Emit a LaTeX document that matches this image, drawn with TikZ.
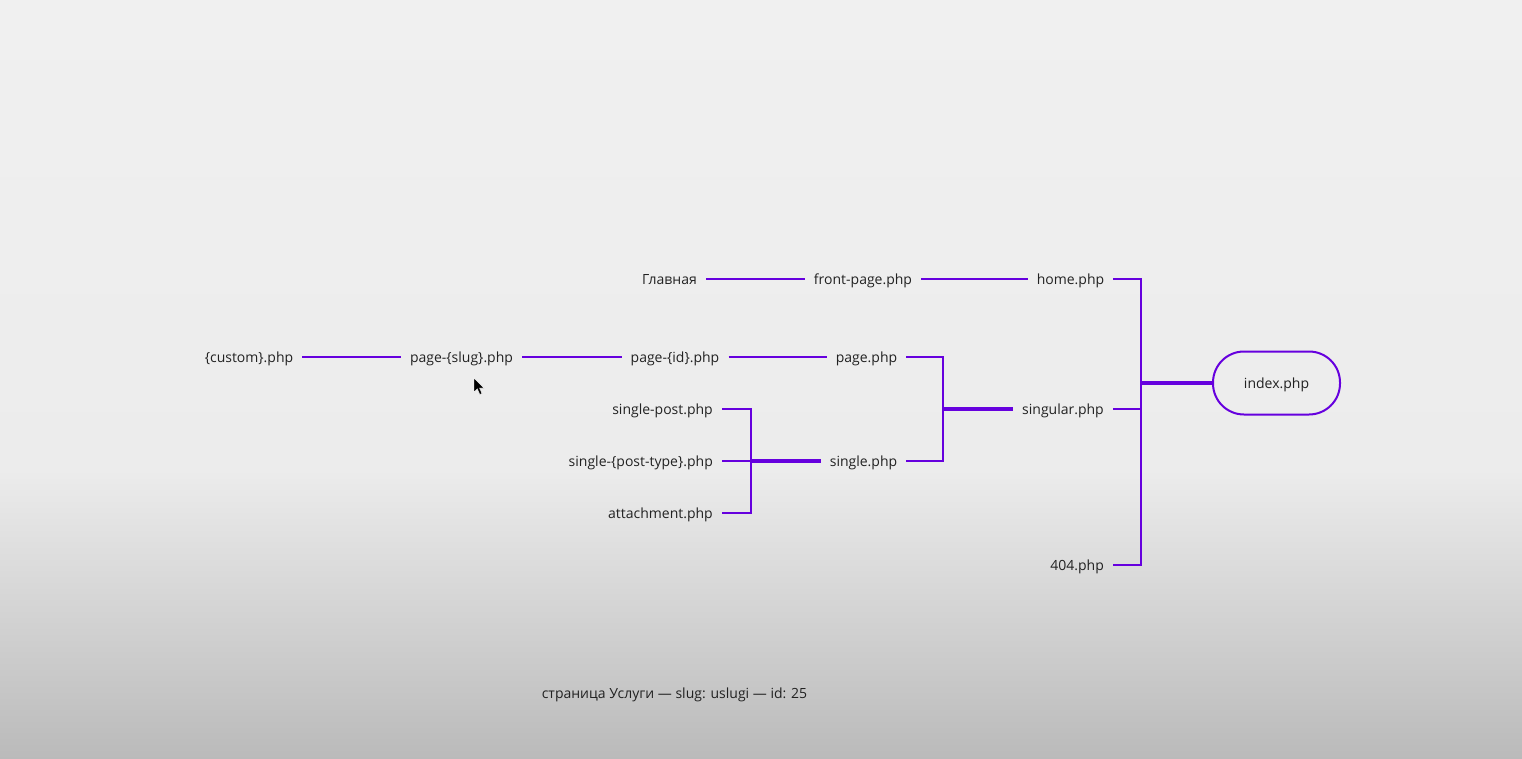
\documentclass[tikz,border=0pt]{standalone}
\usepackage{fontspec}
\setmainfont{Open Sans}
\definecolor{wire}{RGB}{102,0,222}
\definecolor{ink}{RGB}{34,34,34}
\definecolor{bgtop}{RGB}{240,240,240}
\definecolor{bgmid}{RGB}{236,236,236}
\definecolor{bgbot}{RGB}{186,186,186}
\begin{document}
\begin{tikzpicture}[x=1pt,y=-1pt,
  lbl/.style={text=ink,inner xsep=9pt,inner ysep=0pt,text height=12pt,text depth=2pt,font=\fontsize{14}{16}\selectfont},
  wirel/.style={draw=wire,line width=2pt,line join=miter},
  wireth/.style={draw=wire,line width=3.2pt},
  pill/.style={draw=wire,line width=2pt,rounded corners=31pt,minimum width=127pt,minimum height=63pt,text=ink,text height=12pt,text depth=2pt,font=\fontsize{14}{16}\selectfont}]
\useasboundingbox (0,0) rectangle (1522,759);
\shade[top color=bgtop,bottom color=bgmid] (0,0) rectangle (1522,470);
\shade[top color=bgmid,bottom color=bgbot] (0,469.5) rectangle (1522,759);

% row 1
\node[lbl] (glav) at (669.5,279) {Главная};
\node[lbl] (front) at (863,279) {front-page.php};
\node[lbl] (home) at (1070.5,279) {home.php};
% row 2
\node[lbl] (custom) at (249,357) {\{custom\}.php};
\node[lbl] (slug) at (461.5,357) {page-\{slug\}.php};
\node[lbl] (pid) at (675,357) {page-\{id\}.php};
\node[lbl] (page) at (866.5,357) {page.php};
% single group
\node[lbl,anchor=east] (spost) at (722,409) {single-post.php};
\node[lbl,anchor=east] (sptype) at (722,461) {single-\{post-type\}.php};
\node[lbl,anchor=east] (attach) at (722,513) {attachment.php};
\node[lbl] (single) at (863.5,461) {single.php};
% right column
\node[lbl,anchor=east] (singular) at (1113,409) {singular.php};
\node[lbl,anchor=east] (e404) at (1113,565) {404.php};
\node[pill] (index) at (1276.5,383) {index.php};
% caption
\node[lbl] (caption) at (674.5,693) {страница Услуги — slug: uslugi — id: 25};

% junctions
\coordinate (J1) at (1141,383);
\coordinate (J2) at (943,409);
\coordinate (J3) at (751,461);

% row connectors
\draw[wirel] (glav.east) -- (front.west);
\draw[wirel] (front.east) -- (home.west);
\draw[wirel] (custom.east) -- (slug.west);
\draw[wirel] (slug.east) -- (pid.west);
\draw[wirel] (pid.east) -- (page.west);

% single bracket
\draw[wirel] (spost.east) -| (J3) |- (attach.east);
\draw[wirel] (sptype.east) -- (J3);
\draw[wireth] (J3) -- (single.west);

% page/single bracket
\draw[wirel] (page.east) -| (J2) |- (single.east);
\draw[wireth] (J2) -- (singular.west);

% index trunk
\draw[wirel] (home.east) -| (J1) |- (e404.east);
\draw[wirel] (singular.east) -- (singular.east -| J1);
\draw[wireth] (J1) -- (index.west);

% mouse cursor
\fill[black,draw=white,line width=0.4pt] (474,378) -- (474,392) -- (477.3,388.8) -- (479.8,394.5) -- (482,393.5) -- (479.5,388) -- (484,388) -- cycle;
\end{tikzpicture}
\end{document}
